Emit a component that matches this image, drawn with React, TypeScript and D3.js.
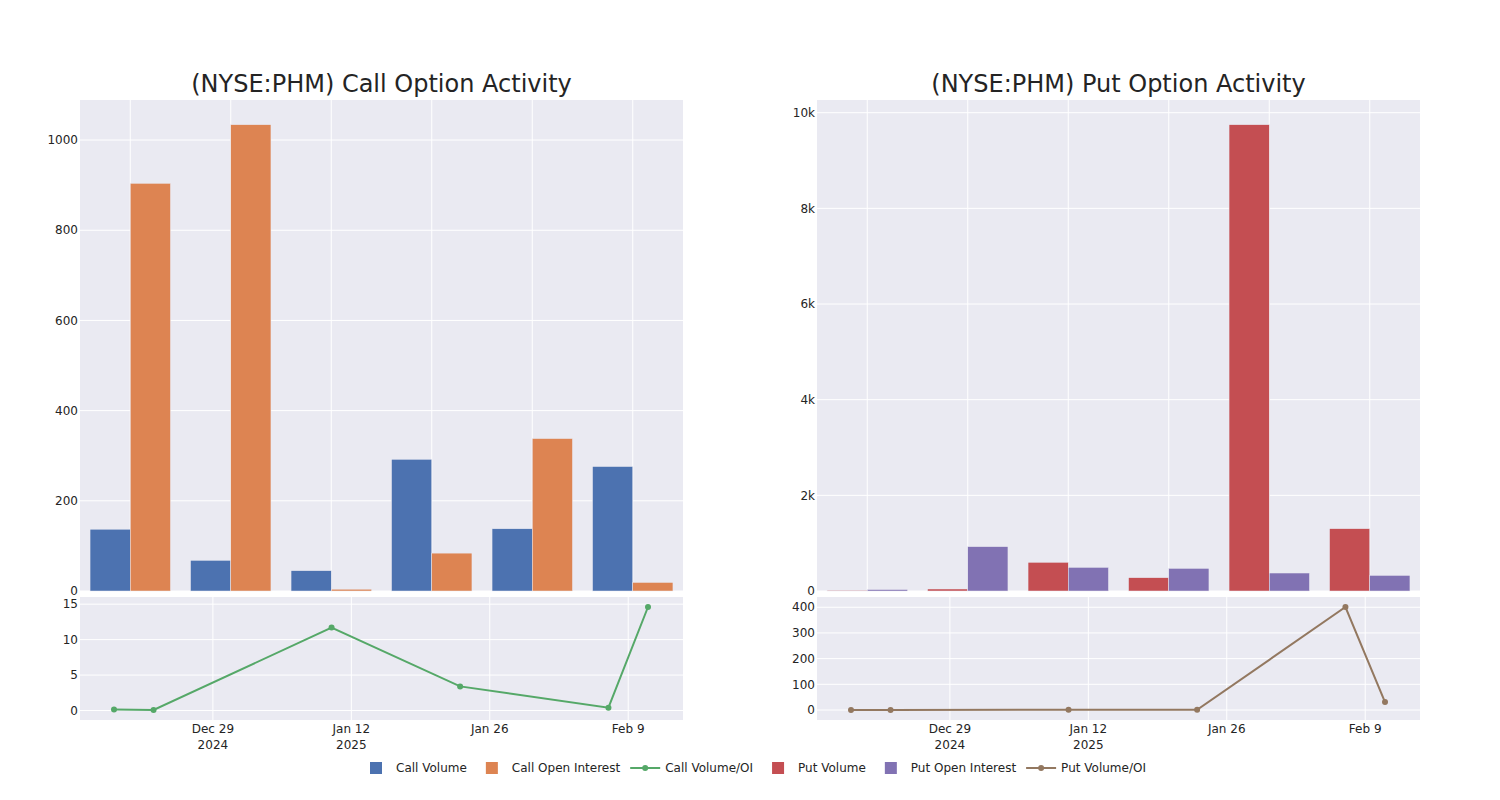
import React, { useEffect, useRef } from "react";
import * as d3 from "d3";

const dates = ["2024-12-19", "2024-12-23", "2025-01-10", "2025-01-23", "2025-02-07", "2025-02-11"];
const callVolume = [137, 68, 45, 292, 138, 276];
const callOpenInterest = [904, 1034, 4, 84, 338, 19];
const callVolOI = [0.15, 0.07, 11.7, 3.4, 0.4, 14.6];
const putVolume = [15, 42, 600, 278, 9749, 1303];
const putOpenInterest = [30, 927, 494, 473, 376, 326];
const putVolOI = [0.5, 0.05, 1.2, 0.6, 401, 31];
const dateTicks = ["2024-12-29", "2025-01-12", "2025-01-26", "2025-02-09"];
const callYTicks = [0, 200, 400, 600, 800, 1000];
const putYTicks = [0, 2000, 4000, 6000, 8000, 10000];
const callRatioTicks = [0, 5, 10, 15];
const putRatioTicks = [0, 100, 200, 300, 400];

const legendItems = [
  { label: "Call Volume", kind: "bar", color: "rgb(76,114,176)" },
  { label: "Call Open Interest", kind: "bar", color: "rgb(221,132,82)" },
  { label: "Call Volume/OI", kind: "line", color: "rgb(85,168,104)" },
  { label: "Put Volume", kind: "bar", color: "rgb(196,78,82)" },
  { label: "Put Open Interest", kind: "bar", color: "rgb(129,114,179)" },
  { label: "Put Volume/OI", kind: "line", color: "rgb(147,120,96)" },
];

const FONT = '"DejaVu Sans", verdana, arial, sans-serif';
const TEXT = "rgb(36,36,36)";
const BG = "rgb(234,234,242)";
const parse = d3.timeParse("%Y-%m-%d");

function drawPanel(svg: any, p: any) {
  const { x0, x1, title, vol, oi, ratio, cVol, cOi, cLine, yTicks, yFmt, rTicks } = p;
  const topY0 = 100, topY1 = 591, botY0 = 597, botY1 = 720;

  svg.append("text").attr("x", (x0 + x1) / 2).attr("y", 92).attr("text-anchor", "middle")
    .attr("font-family", FONT).attr("font-size", 24).attr("fill", TEXT).text(title);

  // top panel
  svg.append("rect").attr("x", x0).attr("y", topY0).attr("width", x1 - x0).attr("height", topY1 - topY0).attr("fill", BG);
  const xBand = d3.scaleBand().domain(dates).range([x0, x1]).paddingInner(0.2).paddingOuter(0.1);
  const xSub = d3.scaleBand().domain(["vol", "oi"]).range([0, xBand.bandwidth()]);
  const yMax = (d3.max([...vol, ...oi]) as number) * 1.053;
  const y = d3.scaleLinear().domain([0, yMax]).range([topY1, topY0]);
  const gt = svg.append("g");
  yTicks.forEach((t: number) => {
    gt.append("line").attr("x1", x0).attr("x2", x1).attr("y1", y(t)).attr("y2", y(t)).attr("stroke", "white").attr("stroke-width", 1);
    svg.append("text").attr("x", x0 - 2).attr("y", y(t)).attr("dy", "0.35em").attr("text-anchor", "end")
      .attr("font-family", FONT).attr("font-size", 12).attr("fill", TEXT).text(yFmt(t));
  });
  dates.forEach((d) => {
    const cx = (xBand(d) as number) + xBand.bandwidth() / 2;
    gt.append("line").attr("x1", cx).attr("x2", cx).attr("y1", topY0).attr("y2", topY1).attr("stroke", "white").attr("stroke-width", 1);
  });
  const series = [
    { key: "vol", vals: vol, color: cVol },
    { key: "oi", vals: oi, color: cOi },
  ];
  series.forEach((s) => {
    svg.append("g").selectAll("rect").data(dates).join("rect")
      .attr("x", (d: string) => (xBand(d) as number) + (xSub(s.key) as number))
      .attr("width", xSub.bandwidth())
      .attr("y", (_: any, i: number) => y(s.vals[i]))
      .attr("height", (_: any, i: number) => topY1 - y(s.vals[i]))
      .attr("fill", s.color).attr("stroke", BG).attr("stroke-width", 0.5);
  });

  // bottom panel
  svg.append("rect").attr("x", x0).attr("y", botY0).attr("width", x1 - x0).attr("height", botY1 - botY0).attr("fill", BG);
  const pd = dates.map((d) => parse(d) as Date);
  const xt = d3.scaleTime().domain(d3.extent(pd) as [Date, Date]).range([x0 + 34, x1 - 35]);
  const yr = d3.scaleLinear().domain(d3.extent(ratio) as [number, number]).range([botY1 - 10, botY0 + 10]);
  const gb = svg.append("g");
  rTicks.forEach((t: number) => {
    gb.append("line").attr("x1", x0).attr("x2", x1).attr("y1", yr(t)).attr("y2", yr(t)).attr("stroke", "white").attr("stroke-width", 1);
    svg.append("text").attr("x", x0 - 2).attr("y", yr(t)).attr("dy", "0.35em").attr("text-anchor", "end")
      .attr("font-family", FONT).attr("font-size", 12).attr("fill", TEXT).text(String(t));
  });
  let prevYear: number | null = null;
  dateTicks.forEach((ds) => {
    const d = parse(ds) as Date;
    const tx = xt(d);
    gb.append("line").attr("x1", tx).attr("x2", tx).attr("y1", botY0).attr("y2", botY1).attr("stroke", "white").attr("stroke-width", 1);
    const t = svg.append("text").attr("x", tx).attr("y", 733).attr("text-anchor", "middle")
      .attr("font-family", FONT).attr("font-size", 12).attr("fill", TEXT);
    t.append("tspan").attr("x", tx).text(d3.timeFormat("%b %-d")(d));
    const yrNum = d.getFullYear();
    if (prevYear === null || yrNum !== prevYear) {
      t.append("tspan").attr("x", tx).attr("dy", 16).text(String(yrNum));
    }
    prevYear = yrNum;
  });
  const line = d3.line<number>().x((_, i) => xt(pd[i])).y((v) => yr(v));
  svg.append("path").datum(ratio).attr("d", line).attr("fill", "none").attr("stroke", cLine).attr("stroke-width", 2);
  svg.append("g").selectAll("circle").data(ratio).join("circle")
    .attr("cx", (_: any, i: number) => xt(pd[i])).attr("cy", (v: number) => yr(v)).attr("r", 3).attr("fill", cLine);
}

export default function App() {
  const ref = useRef<SVGSVGElement>(null);
  useEffect(() => {
    const svg = d3.select(ref.current);
    svg.selectAll("*").remove();
    svg.append("rect").attr("width", 1500).attr("height", 800).attr("fill", "white");
    drawPanel(svg, {
      x0: 80, x1: 683, title: "(NYSE:PHM) Call Option Activity",
      vol: callVolume, oi: callOpenInterest, ratio: callVolOI,
      cVol: legendItems[0].color, cOi: legendItems[1].color, cLine: legendItems[2].color,
      yTicks: callYTicks, yFmt: (t: number) => String(t), rTicks: callRatioTicks,
    });
    drawPanel(svg, {
      x0: 817, x1: 1420, title: "(NYSE:PHM) Put Option Activity",
      vol: putVolume, oi: putOpenInterest, ratio: putVolOI,
      cVol: legendItems[3].color, cOi: legendItems[4].color, cLine: legendItems[5].color,
      yTicks: putYTicks, yFmt: d3.format("~s"), rTicks: putRatioTicks,
    });

    // legend
    const lg = svg.append("g");
    const ly = 768;
    let x = 0;
    legendItems.forEach((it) => {
      const g = lg.append("g");
      if (it.kind === "bar") {
        g.append("rect").attr("x", x + 14).attr("y", ly - 6).attr("width", 12).attr("height", 12).attr("fill", it.color);
      } else {
        g.append("line").attr("x1", x + 5).attr("x2", x + 35).attr("y1", ly).attr("y2", ly).attr("stroke", it.color).attr("stroke-width", 2);
        g.append("circle").attr("cx", x + 20).attr("cy", ly).attr("r", 3).attr("fill", it.color);
      }
      const t = g.append("text").attr("x", x + 40).attr("y", ly).attr("dy", "0.35em")
        .attr("font-family", FONT).attr("font-size", 12).attr("fill", TEXT).text(it.label);
      const w = (t.node() as SVGTextElement).getComputedTextLength();
      x += 40 + w + 5;
    });
    lg.attr("transform", `translate(356,0)`);
  }, []);
  return (
    <svg ref={ref} width={1500} height={800} style={{ position: "absolute", left: 0, top: 0 }} />
  );
}
